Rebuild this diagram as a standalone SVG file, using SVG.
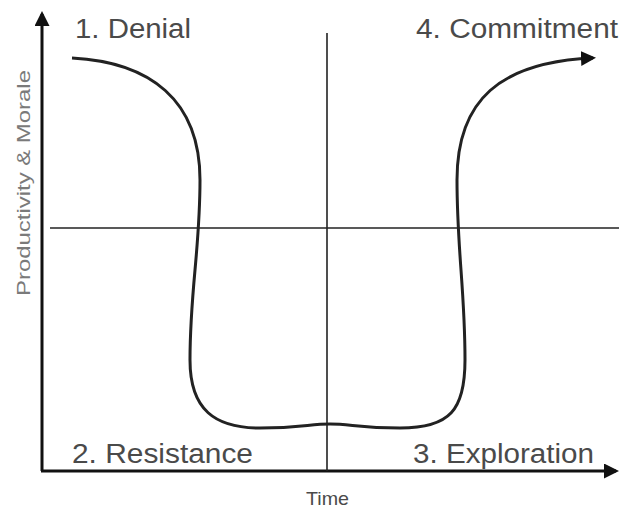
<svg xmlns="http://www.w3.org/2000/svg" width="625" height="510" viewBox="0 0 625 510">
<style>
.lbl{font-family:"Liberation Sans",Arial,sans-serif;fill:#4a4a4a}
.big{font-size:27px}
.small{font-size:19px}
.ax{stroke:#111;stroke-width:3;fill:none}
.ln{stroke:#222;stroke-width:1.6;fill:none}
.cv{stroke:#222;stroke-width:3;fill:none}
</style>
<defs>
<marker id="ah" viewBox="0 0 10 10" refX="8" refY="5" markerWidth="5" markerHeight="5" orient="auto" markerUnits="strokeWidth">
<path d="M0,0 L10,5 L0,10 z" fill="#111"/>
</marker>
</defs>
<g id="connectors">
<line class="ax" x1="42" y1="471" x2="42" y2="14" marker-end="url(#ah)"/>
<line class="ax" x1="41" y1="471" x2="616" y2="471" marker-end="url(#ah)"/>
<line class="ln" x1="50" y1="228" x2="619" y2="228"/>
<line class="ln" x1="327" y1="33" x2="327" y2="471"/>
<path class="cv" d="M72,58 C150,62 200,100 200,180 C200,250 190,290 190,360 C190,410 215,428 260,428 C300,428 310,424 330,424 C350,424 360,428 400,428 C450,428 465,410 465,360 C465,290 457,250 457,180 C457,100 500,62 593,58" marker-end="url(#ah)"/>
</g>
<g id="denial"><text class="lbl big" x="75" y="38" textLength="116" lengthAdjust="spacingAndGlyphs">1. Denial</text></g>
<g id="commitment"><text class="lbl big" x="416" y="38" textLength="202" lengthAdjust="spacingAndGlyphs">4. Commitment</text></g>
<g id="resistance"><text class="lbl big" x="72" y="463" textLength="181" lengthAdjust="spacingAndGlyphs">2. Resistance</text></g>
<g id="exploration"><text class="lbl big" x="413" y="463" textLength="181" lengthAdjust="spacingAndGlyphs">3. Exploration</text></g>
<g id="time"><text class="lbl small" x="306" y="505" textLength="43" lengthAdjust="spacingAndGlyphs">Time</text></g>
<g id="ylabel"><text class="lbl small" transform="translate(30,296) rotate(-90)" textLength="226" lengthAdjust="spacingAndGlyphs" style="fill:#7a7a7a">Productivity &amp; Morale</text></g>
</svg>
